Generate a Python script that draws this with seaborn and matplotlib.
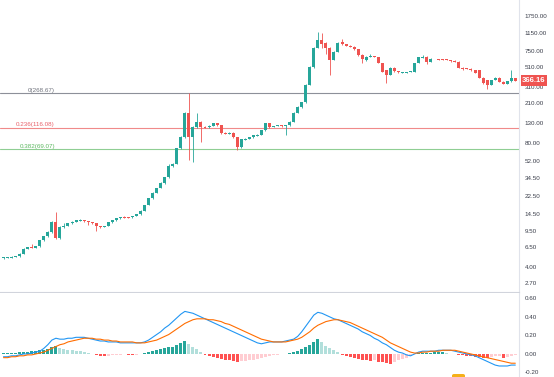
import numpy as np
import pandas as pd
import matplotlib
matplotlib.use("Agg")
import matplotlib.pyplot as plt
import matplotlib.transforms as mtransforms
from matplotlib.patches import FancyBboxPatch
import seaborn as sns


# candle data (log price axis)
opens = [4.95, 5.0, 5.05, 5.1, 5.15, 5.5, 6.2, 6.5, 6.4, 6.6,
         7.6, 8.4, 9.3, 11.9, 8.05, 10.5, 10.8, 11.5, 12.0, 12.4,
         12.5, 12.2, 11.9, 11.6, 10.8, 10.6, 10.8, 11.8, 12.4, 13.0,
         13.4, 13.4, 13.3, 13.8, 14.3, 15.6, 17.9, 21.0, 24.0, 27.0,
         30.5, 35.0, 46.0, 49.0, 71.0, 93.0, 167.0, 93.0, 119.0, 134.0,
         119.0, 118.0, 122.0, 130.0, 125.0, 103.0, 101.0, 103.0, 93.0, 73.0,
         88.0, 89.0, 93.0, 97.0, 98.0, 110.0, 130.0, 119.0, 122.0, 123.0,
         121.0, 124.0, 134.0, 167.0, 193.0, 215.0, 330.0, 510.0, 806.0, 980.0,
         920.0, 806.0, 603.0, 731.0, 930.0, 880.0, 850.0, 830.0, 780.0, 680.0,
         600.0, 650.0, 660.0, 650.0, 560.0, 470.0, 420.0, 500.0, 460.0, 445.0,
         445.0, 450.0, 455.0, 560.0, 640.0, 650.0, 580.0, 615.0, 618.0, 614.0,
         615.0, 603.0, 590.0, 580.0, 500.0, 490.0, 490.0, 473.0, 470.0, 390.0,
         370.0, 330.0, 375.0, 390.0, 355.0, 340.0, 360.0, 385.0]
closes = [5.0, 5.05, 5.1, 5.15, 5.5, 6.2, 6.45, 6.4, 6.6, 7.6,
          8.4, 9.3, 11.9, 8.05, 10.5, 10.8, 11.5, 12.0, 12.4, 12.5,
          12.2, 11.9, 11.6, 10.8, 10.6, 10.8, 11.8, 12.4, 13.0, 13.2,
          13.3, 13.3, 13.8, 14.3, 15.6, 17.9, 21.0, 24.0, 27.0, 30.5,
          35.0, 46.0, 49.0, 71.0, 93.0, 167.0, 93.0, 119.0, 134.0, 119.0,
          118.0, 122.0, 130.0, 125.0, 103.0, 101.0, 103.0, 93.0, 73.0, 88.0,
          89.0, 93.0, 97.0, 98.0, 110.0, 130.0, 119.0, 122.0, 123.0, 121.0,
          124.0, 134.0, 167.0, 193.0, 215.0, 330.0, 510.0, 806.0, 980.0, 880.0,
          806.0, 603.0, 731.0, 910.0, 880.0, 850.0, 830.0, 780.0, 680.0, 620.0,
          650.0, 670.0, 655.0, 560.0, 450.0, 420.0, 500.0, 460.0, 445.0, 445.0,
          450.0, 455.0, 560.0, 640.0, 650.0, 570.0, 620.0, 618.0, 614.0, 612.0,
          600.0, 585.0, 575.0, 500.0, 480.0, 488.0, 470.0, 440.0, 390.0, 345.0,
          330.0, 370.0, 390.0, 355.0, 340.0, 360.0, 385.0, 366.16]
highs = [5.1, 5.1, 5.15, 5.2, 5.6, 6.3, 6.5, 6.9, 6.7, 7.7,
         8.5, 9.5, 12.2, 15.1, 10.7, 11.6, 11.7, 12.2, 12.6, 12.7,
         12.6, 12.3, 12.0, 11.7, 10.9, 10.9, 11.9, 12.5, 13.1, 13.4,
         13.6, 13.5, 13.9, 14.4, 15.8, 18.1, 21.3, 24.3, 27.4, 31.0,
         35.5, 49.0, 50.0, 72.0, 95.0, 170.0, 268.67, 122.0, 167.0, 136.0,
         121.0, 124.0, 132.0, 131.0, 126.0, 105.0, 105.0, 104.0, 94.0, 89.0,
         90.0, 94.0, 98.0, 99.0, 111.0, 132.0, 131.0, 123.0, 124.0, 124.0,
         125.0, 136.0, 169.0, 196.0, 218.0, 335.0, 520.0, 820.0, 1188.0, 1150.0,
         940.0, 820.0, 740.0, 925.0, 1000.0, 890.0, 860.0, 840.0, 790.0, 690.0,
         660.0, 700.0, 665.0, 655.0, 565.0, 475.0, 505.0, 510.0, 465.0, 450.0,
         455.0, 460.0, 565.0, 650.0, 680.0, 660.0, 625.0, 622.0, 622.0, 618.0,
         620.0, 606.0, 595.0, 585.0, 505.0, 495.0, 495.0, 478.0, 475.0, 395.0,
         375.0, 375.0, 395.0, 395.0, 360.0, 365.0, 473.0, 390.0]
lows = [4.9, 4.95, 5.0, 5.05, 5.1, 5.45, 6.1, 6.3, 6.3, 6.5,
        7.5, 8.3, 9.2, 7.8, 7.9, 10.3, 10.7, 11.4, 11.9, 12.3,
        12.0, 11.0, 11.4, 9.5, 10.3, 10.5, 10.7, 11.7, 12.3, 12.9,
        13.1, 13.1, 13.2, 13.7, 14.2, 15.5, 17.8, 20.8, 23.8, 26.8,
        30.0, 34.5, 45.0, 48.0, 70.0, 92.0, 53.0, 51.0, 117.0, 82.0,
        116.0, 116.0, 121.0, 123.0, 101.0, 99.0, 99.0, 91.0, 68.0, 72.0,
        86.0, 88.0, 92.0, 96.0, 97.0, 109.0, 117.0, 118.0, 121.0, 120.0,
        98.0, 123.0, 133.0, 165.0, 190.0, 212.0, 325.0, 500.0, 800.0, 800.0,
        690.0, 419.0, 595.0, 725.0, 870.0, 840.0, 820.0, 770.0, 670.0, 560.0,
        590.0, 645.0, 648.0, 555.0, 445.0, 345.0, 415.0, 455.0, 440.0, 440.0,
        440.0, 445.0, 450.0, 555.0, 635.0, 540.0, 575.0, 610.0, 608.0, 606.0,
        595.0, 580.0, 570.0, 495.0, 475.0, 482.0, 465.0, 435.0, 385.0, 340.0,
        300.0, 325.0, 370.0, 350.0, 335.0, 335.0, 355.0, 360.0]

# MACD panel
macd_line = [-0.03, -0.03, -0.02, -0.02, -0.01, 0.0, 0.0, 0.01, 0.02, 0.03,
             0.06, 0.10, 0.15, 0.17, 0.16, 0.16, 0.17, 0.17, 0.18, 0.18,
             0.18, 0.17, 0.16, 0.15, 0.14, 0.14, 0.13, 0.13, 0.13, 0.12,
             0.12, 0.12, 0.12, 0.12, 0.12, 0.13, 0.15, 0.18, 0.21, 0.24,
             0.28, 0.31, 0.35, 0.39, 0.43, 0.46, 0.45, 0.44, 0.42, 0.40,
             0.38, 0.36, 0.34, 0.32, 0.30, 0.28, 0.26, 0.24, 0.22, 0.20,
             0.18, 0.16, 0.14, 0.12, 0.11, 0.12, 0.13, 0.13, 0.13, 0.13,
             0.14, 0.15, 0.16, 0.19, 0.24, 0.30, 0.36, 0.42, 0.45, 0.44,
             0.42, 0.40, 0.38, 0.37, 0.35, 0.33, 0.31, 0.29, 0.27, 0.24,
             0.22, 0.20, 0.17, 0.15, 0.12, 0.10, 0.07, 0.04, 0.02, 0.01,
             -0.01, -0.02, 0.0, 0.02, 0.03, 0.03, 0.03, 0.03, 0.04, 0.04,
             0.04, 0.04, 0.03, 0.02, 0.01, 0.0, -0.01, -0.02, -0.04, -0.06,
             -0.08, -0.10, -0.12, -0.13, -0.13, -0.13, -0.12, -0.12]
signal_line = [-0.04, -0.04, -0.03, -0.03, -0.02, -0.02, -0.01, -0.01, 0.0, 0.01,
               0.02, 0.04, 0.06, 0.08, 0.10, 0.11, 0.13, 0.14, 0.15, 0.16,
               0.17, 0.17, 0.17, 0.16, 0.16, 0.15, 0.15, 0.14, 0.14, 0.13,
               0.13, 0.13, 0.13, 0.12, 0.12, 0.12, 0.13, 0.14, 0.15, 0.17,
               0.19, 0.21, 0.24, 0.27, 0.30, 0.33, 0.35, 0.37, 0.38, 0.38,
               0.38, 0.37, 0.37, 0.36, 0.35, 0.33, 0.32, 0.30, 0.28, 0.26,
               0.24, 0.22, 0.20, 0.18, 0.16, 0.15, 0.14, 0.13, 0.13, 0.13,
               0.13, 0.14, 0.15, 0.16, 0.18, 0.21, 0.24, 0.28, 0.31, 0.33,
               0.35, 0.36, 0.37, 0.37, 0.36, 0.35, 0.34, 0.32, 0.30, 0.28,
               0.26, 0.24, 0.22, 0.20, 0.18, 0.15, 0.12, 0.10, 0.08, 0.06,
               0.04, 0.02, 0.01, 0.01, 0.02, 0.02, 0.03, 0.03, 0.03, 0.04,
               0.04, 0.04, 0.04, 0.03, 0.02, 0.01, 0.0, -0.01, -0.02, -0.03,
               -0.04, -0.05, -0.06, -0.07, -0.08, -0.09, -0.10, -0.10]
histogram = [0.01, 0.012, 0.012, 0.014, 0.016, 0.02, 0.024, 0.03, 0.035, 0.04,
             0.045, 0.055, 0.07, 0.09, 0.06, 0.05, 0.045, 0.04, 0.035, 0.03,
             0.02, 0.01, 0.005, -0.01, -0.02, -0.025, -0.02, -0.015, -0.01, -0.008,
             -0.005, -0.01, -0.015, -0.01, 0.005, 0.01, 0.02, 0.03, 0.04, 0.05,
             0.06, 0.07, 0.08, 0.10, 0.12, 0.14, 0.11, 0.08, 0.05, 0.02,
             -0.01, -0.02, -0.03, -0.04, -0.05, -0.06, -0.07, -0.08, -0.09, -0.08,
             -0.075, -0.07, -0.06, -0.05, -0.045, -0.035, -0.025, -0.015, -0.01, -0.005,
             0.005, 0.01, 0.02, 0.03, 0.05, 0.07, 0.10, 0.13, 0.16, 0.13,
             0.09, 0.06, 0.04, 0.02, -0.01, -0.02, -0.03, -0.04, -0.05, -0.06,
             -0.07, -0.08, -0.07, -0.085, -0.09, -0.10, -0.105, -0.09, -0.07, -0.05,
             -0.04, -0.02, 0.005, 0.008, 0.01, 0.012, 0.014, 0.016, 0.018, 0.02,
             0.01, 0.005, -0.005, -0.01, -0.015, -0.02, -0.025, -0.03, -0.035, -0.04,
             -0.045, -0.03, -0.025, -0.02, -0.04, -0.03, -0.02, -0.01]

fib_levels = [268.67, 116.08, 69.07]
fib_labels = ["0(268.67)", "0.236(116.08)", "0.382(69.07)"]
price_ticks = [1750, 1150, 750, 510, 310, 210, 130, 80, 52, 34.5, 22.5, 14.5, 9.5, 6.5, 4, 2.7]
macd_ticks = [0.6, 0.4, 0.2, 0.0, -0.2]
last_price = 366.16

UP = "#26a69a"
DOWN = "#ef5350"

sns.set_theme(style="white")
plt.rcParams["font.family"] = ["Liberation Sans", "DejaVu Sans"]

df = pd.DataFrame({"open": opens, "high": highs, "low": lows, "close": closes,
                   "macd": macd_line, "signal": signal_line, "hist": histogram})
df["idx"] = np.arange(len(df))

W, H = 554, 377
fig = plt.figure(figsize=(W / 100, H / 100), dpi=100)
fig.patch.set_facecolor("white")

ax = fig.add_axes([0, 85 / H, 519 / W, 292 / H])
ax2 = fig.add_axes([0, 0, 519 / W, 84 / H], sharex=ax)

step = 4.03
xlim = (-3.5 / step, (519 - 3.5) / step)

# candles
up = df["close"] >= df["open"]
cols = np.where(up, UP, DOWN)
body_lo = np.minimum(df["open"], df["close"]).to_numpy()
body_hi = np.maximum(df["open"], df["close"]).to_numpy()
mid = np.sqrt(body_lo * body_hi)
thin = body_hi / body_lo < 1.022
body_lo = np.where(thin, mid / 1.011, body_lo)
body_hi = np.where(thin, mid * 1.011, body_hi)

ax.vlines(df["idx"], df["low"], df["high"], colors=cols, linewidth=0.6, zorder=2)
ax.bar(df["idx"], body_hi - body_lo, bottom=body_lo, width=0.74,
       color=cols, linewidth=0, zorder=3)

ax.set_yscale("log")
ax.set_ylim(2.177, 2578)
ax.set_xlim(*xlim)

# fib levels
fib_colors = ["#8d9099", "#f08a8a", "#8fce93"]
fib_text = ["#6f727c", "#e8616a", "#5cb860"]
trans = mtransforms.blended_transform_factory(ax.transAxes, ax.transData)
for lvl, lab, lc, tc in zip(fib_levels, fib_labels, fib_colors, fib_text):
    ax.axhline(lvl, color=lc, linewidth=0.8, zorder=1)
    ax.text(55 / 519, lvl * 1.012, lab, transform=trans, ha="right", va="bottom",
            fontsize=4.5, color=tc)

ax.yaxis.tick_right()
ax.set_yticks(price_ticks)
ax.set_yticklabels([f"{v:.2f}" for v in price_ticks])
ax.yaxis.set_minor_locator(matplotlib.ticker.NullLocator())
ax.tick_params(axis="y", length=0, pad=4, labelsize=4.5, labelcolor="#3a3e4a")
ax.tick_params(axis="x", length=0, labelbottom=False)
for s in ["top", "left"]:
    ax.spines[s].set_visible(False)
ax.spines["right"].set_color("#e0e3eb")
ax.spines["bottom"].set_color("#d1d4dc")
ax.spines["right"].set_linewidth(0.8)
ax.spines["bottom"].set_linewidth(0.8)

# last price label
ax.annotate(f"{last_price:.2f}", xy=(1.0, last_price), xycoords=trans,
            xytext=(2.2, 0), textcoords="offset points", ha="left", va="center",
            fontsize=5.6, color="white", fontweight="bold",
            bbox=dict(boxstyle="square,pad=0.2", fc="#ef5350", ec="none"),
            annotation_clip=False)

# MACD panel
hist_cols = []
prev = 0.0
for h in histogram:
    if h >= 0:
        hist_cols.append(UP if h >= prev else "#b2dfdb")
    else:
        hist_cols.append("#ff5252" if h <= prev else "#ffcdd2")
    prev = h

ax2.bar(df["idx"], df["hist"], width=0.74, color=hist_cols, linewidth=0, zorder=2)
sns.lineplot(data=df, x="idx", y="macd", ax=ax2, color="#2196f3", linewidth=0.8, zorder=3)
sns.lineplot(data=df, x="idx", y="signal", ax=ax2, color="#ff6d00", linewidth=0.8, zorder=3)
ax2.set_ylim(-0.249, 0.659)
ax2.set_xlim(*xlim)
ax2.set_xlabel("")
ax2.set_ylabel("")
ax2.yaxis.tick_right()
ax2.set_yticks(macd_ticks)
ax2.set_yticklabels([f"{v:.2f}" for v in macd_ticks])
ax2.tick_params(axis="y", length=0, pad=4, labelsize=4.5, labelcolor="#3a3e4a")
ax2.tick_params(axis="x", length=0, labelbottom=False)
for s in ["top", "left", "bottom"]:
    ax2.spines[s].set_visible(False)
ax2.spines["right"].set_color("#e0e3eb")
ax2.spines["right"].set_linewidth(0.8)

# small event marker cut off at the bottom edge
fig.patches.append(FancyBboxPatch((452 / W, -2 / H), 13 / W, 5 / H,
                                  boxstyle="round,pad=0,rounding_size=0.004",
                                  transform=fig.transFigure, fc="#f5b01a", ec="none"))

fig.savefig("out.png", dpi=100)
